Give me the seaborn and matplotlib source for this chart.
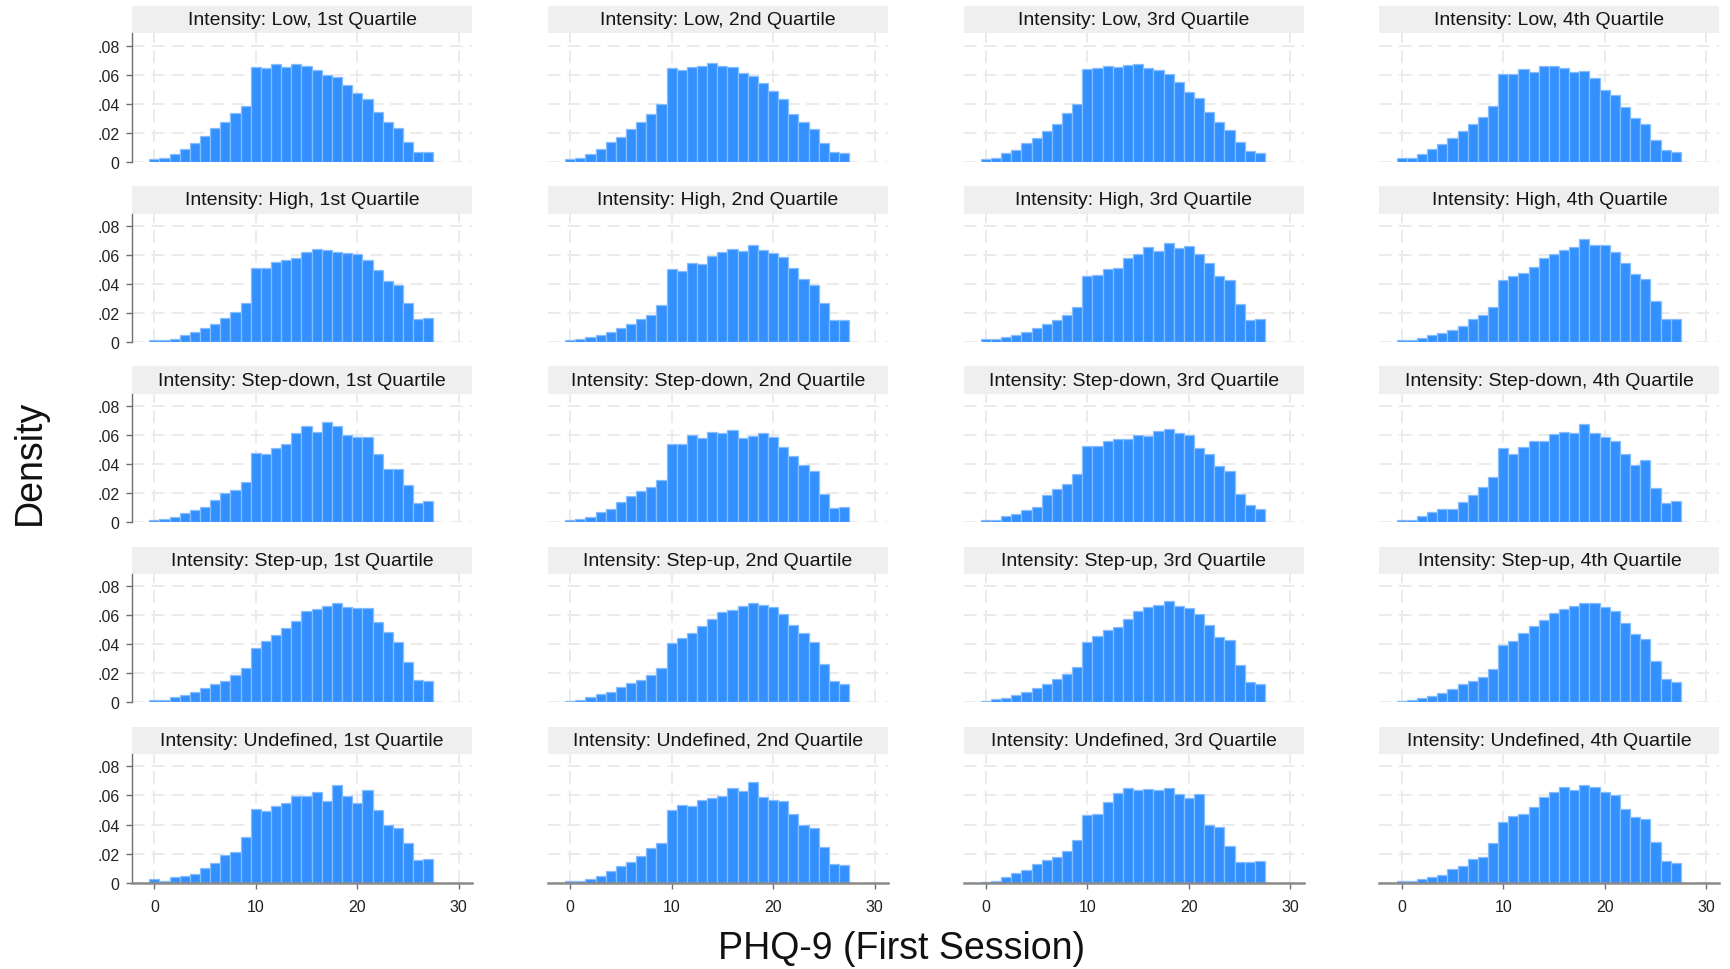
import numpy as np
import pandas as pd
import matplotlib
matplotlib.use("Agg")
import matplotlib.pyplot as plt
import seaborn as sns
from matplotlib.patches import Rectangle

# PHQ-9 score categories (one bar per integer score)
phq9_scores = list(range(28))

intensities = ["Low", "High", "Step-down", "Step-up", "Undefined"]
quartiles = ["1st Quartile", "2nd Quartile", "3rd Quartile", "4th Quartile"]

# Density of first-session PHQ-9 score, per intensity x quartile
low_q1 = [0.0021, 0.0028, 0.0053, 0.0088, 0.0127, 0.0175, 0.0231, 0.0274, 0.0337, 0.0385,
          0.0655, 0.0643, 0.0676, 0.0655, 0.0676, 0.0659, 0.0632, 0.0595, 0.0581, 0.0530,
          0.0475, 0.0433, 0.0346, 0.0274, 0.0233, 0.0136, 0.0069, 0.0065]
low_q2 = [0.0018, 0.0028, 0.0053, 0.0090, 0.0136, 0.0173, 0.0224, 0.0277, 0.0327, 0.0397,
          0.0648, 0.0634, 0.0655, 0.0657, 0.0678, 0.0657, 0.0655, 0.0611, 0.0590, 0.0542,
          0.0486, 0.0431, 0.0332, 0.0274, 0.0226, 0.0127, 0.0065, 0.0060]
low_q3 = [0.0021, 0.0028, 0.0062, 0.0083, 0.0127, 0.0166, 0.0214, 0.0263, 0.0339, 0.0399,
          0.0639, 0.0643, 0.0659, 0.0650, 0.0666, 0.0671, 0.0648, 0.0634, 0.0604, 0.0549,
          0.0482, 0.0436, 0.0341, 0.0272, 0.0221, 0.0134, 0.0076, 0.0062]
low_q4 = [0.0023, 0.0028, 0.0055, 0.0087, 0.0124, 0.0161, 0.0210, 0.0260, 0.0311, 0.0385,
          0.0606, 0.0606, 0.0636, 0.0620, 0.0659, 0.0659, 0.0648, 0.0618, 0.0622, 0.0574,
          0.0497, 0.0462, 0.0375, 0.0302, 0.0263, 0.0152, 0.0081, 0.0069]

high_q1 = [0.0016, 0.0012, 0.0023, 0.0046, 0.0072, 0.0097, 0.0125, 0.0166, 0.0208, 0.0270,
           0.0510, 0.0510, 0.0554, 0.0567, 0.0579, 0.0623, 0.0641, 0.0637, 0.0623, 0.0614,
           0.0604, 0.0565, 0.0494, 0.0422, 0.0394, 0.0268, 0.0157, 0.0168]
high_q2 = [0.0016, 0.0018, 0.0035, 0.0048, 0.0072, 0.0099, 0.0125, 0.0159, 0.0189, 0.0258,
           0.0505, 0.0487, 0.0542, 0.0540, 0.0593, 0.0623, 0.0641, 0.0630, 0.0667, 0.0632,
           0.0614, 0.0586, 0.0508, 0.0436, 0.0394, 0.0268, 0.0152, 0.0152]
high_q3 = [0.0018, 0.0018, 0.0035, 0.0051, 0.0069, 0.0097, 0.0125, 0.0152, 0.0189, 0.0240,
           0.0457, 0.0464, 0.0505, 0.0508, 0.0577, 0.0604, 0.0651, 0.0627, 0.0681, 0.0644,
           0.0662, 0.0609, 0.0542, 0.0457, 0.0429, 0.0265, 0.0152, 0.0159]
high_q4 = [0.0012, 0.0014, 0.0028, 0.0046, 0.0062, 0.0085, 0.0113, 0.0155, 0.0185, 0.0242,
           0.0429, 0.0457, 0.0478, 0.0517, 0.0577, 0.0604, 0.0637, 0.0653, 0.0711, 0.0667,
           0.0667, 0.0618, 0.0544, 0.0466, 0.0436, 0.0281, 0.0155, 0.0155]

stepdown_q1 = [0.0018, 0.0021, 0.0035, 0.0060, 0.0083, 0.0106, 0.0155, 0.0203, 0.0219, 0.0277,
               0.0480, 0.0471, 0.0512, 0.0537, 0.0614, 0.0662, 0.0623, 0.0687, 0.0662, 0.0602,
               0.0588, 0.0588, 0.0473, 0.0364, 0.0369, 0.0254, 0.0131, 0.0148]
stepdown_q2 = [0.0014, 0.0023, 0.0039, 0.0069, 0.0092, 0.0141, 0.0180, 0.0215, 0.0242, 0.0293,
               0.0540, 0.0537, 0.0602, 0.0577, 0.0623, 0.0614, 0.0634, 0.0577, 0.0597, 0.0614,
               0.0588, 0.0517, 0.0454, 0.0394, 0.0353, 0.0191, 0.0097, 0.0104]
stepdown_q3 = [0.0018, 0.0018, 0.0044, 0.0058, 0.0081, 0.0104, 0.0189, 0.0228, 0.0265, 0.0330,
               0.0526, 0.0528, 0.0561, 0.0572, 0.0574, 0.0602, 0.0597, 0.0625, 0.0641, 0.0616,
               0.0600, 0.0514, 0.0473, 0.0390, 0.0353, 0.0191, 0.0118, 0.0092]
stepdown_q4 = [0.0016, 0.0018, 0.0042, 0.0067, 0.0092, 0.0092, 0.0141, 0.0185, 0.0240, 0.0311,
               0.0512, 0.0468, 0.0521, 0.0561, 0.0556, 0.0607, 0.0618, 0.0611, 0.0676, 0.0614,
               0.0588, 0.0558, 0.0473, 0.0392, 0.0427, 0.0238, 0.0129, 0.0143]

stepup_q1 = [0.0018, 0.0018, 0.0036, 0.0052, 0.0071, 0.0098, 0.0124, 0.0147, 0.0191, 0.0237,
             0.0373, 0.0423, 0.0465, 0.0513, 0.0562, 0.0631, 0.0645, 0.0663, 0.0684, 0.0659,
             0.0650, 0.0647, 0.0557, 0.0488, 0.0419, 0.0276, 0.0154, 0.0145]
stepup_q2 = [0.0013, 0.0018, 0.0036, 0.0059, 0.0075, 0.0105, 0.0135, 0.0154, 0.0191, 0.0239,
             0.0412, 0.0446, 0.0481, 0.0527, 0.0573, 0.0626, 0.0637, 0.0665, 0.0686, 0.0673,
             0.0659, 0.0608, 0.0532, 0.0477, 0.0414, 0.0267, 0.0147, 0.0128]
stepup_q3 = [0.0011, 0.0020, 0.0032, 0.0050, 0.0073, 0.0098, 0.0124, 0.0158, 0.0193, 0.0246,
             0.0419, 0.0458, 0.0500, 0.0516, 0.0573, 0.0631, 0.0654, 0.0668, 0.0701, 0.0666,
             0.0647, 0.0608, 0.0532, 0.0453, 0.0430, 0.0255, 0.0140, 0.0124]
stepup_q4 = [0.0013, 0.0018, 0.0032, 0.0046, 0.0066, 0.0094, 0.0124, 0.0147, 0.0172, 0.0232,
             0.0394, 0.0426, 0.0477, 0.0523, 0.0566, 0.0613, 0.0645, 0.0666, 0.0686, 0.0682,
             0.0654, 0.0631, 0.0544, 0.0470, 0.0435, 0.0285, 0.0158, 0.0142]

undefined_q1 = [0.0025, 0.0012, 0.0037, 0.0044, 0.0056, 0.0100, 0.0137, 0.0188, 0.0211, 0.0315,
                0.0505, 0.0496, 0.0526, 0.0547, 0.0598, 0.0598, 0.0621, 0.0561, 0.0672, 0.0598,
                0.0547, 0.0637, 0.0498, 0.0399, 0.0375, 0.0276, 0.0158, 0.0165]
undefined_q2 = [0.0014, 0.0012, 0.0028, 0.0048, 0.0078, 0.0111, 0.0143, 0.0182, 0.0235, 0.0275,
                0.0501, 0.0531, 0.0526, 0.0567, 0.0586, 0.0597, 0.0651, 0.0632, 0.0692, 0.0591,
                0.0570, 0.0563, 0.0473, 0.0394, 0.0374, 0.0247, 0.0129, 0.0118]
undefined_q3 = [0.0005, 0.0014, 0.0037, 0.0067, 0.0088, 0.0125, 0.0155, 0.0175, 0.0221, 0.0291,
                0.0466, 0.0471, 0.0558, 0.0616, 0.0653, 0.0637, 0.0646, 0.0639, 0.0653, 0.0609,
                0.0584, 0.0609, 0.0394, 0.0381, 0.0251, 0.0141, 0.0141, 0.0148]
undefined_q4 = [0.0012, 0.0014, 0.0023, 0.0037, 0.0055, 0.0095, 0.0111, 0.0161, 0.0173, 0.0270,
                0.0420, 0.0459, 0.0471, 0.0521, 0.0591, 0.0625, 0.0655, 0.0637, 0.0671, 0.0655,
                0.0627, 0.0600, 0.0510, 0.0450, 0.0440, 0.0281, 0.0152, 0.0134]

panel_values = {
    "Low": [low_q1, low_q2, low_q3, low_q4],
    "High": [high_q1, high_q2, high_q3, high_q4],
    "Step-down": [stepdown_q1, stepdown_q2, stepdown_q3, stepdown_q4],
    "Step-up": [stepup_q1, stepup_q2, stepup_q3, stepup_q4],
    "Undefined": [undefined_q1, undefined_q2, undefined_q3, undefined_q4],
}

rows = []
for intensity in intensities:
    for quartile, vals in zip(quartiles, panel_values[intensity]):
        for score, d in zip(phq9_scores, vals):
            rows.append({"intensity": intensity, "quartile": quartile,
                         "score": score, "density": d})
df = pd.DataFrame(rows)

sns.set_theme(style="white")
plt.rcParams["font.family"] = ["Liberation Sans", "DejaVu Sans"]

W, H = 1731, 970
fig = plt.figure(figsize=(W / 100, H / 100), dpi=100)
fig.patch.set_facecolor("white")

BAR = "#3391ff"
EDGE = "#85bdff"
GRID = "#e9e9e9"
AXIS = "#6e6e6e"

col_left0, col_step, ax_w = 132.0, 415.8, 340.0
row_top0, row_step, ax_h = 34.3, 180.2, 128.5
strip_h = 27.3

for j, intensity in enumerate(intensities):
    for i, quartile in enumerate(quartiles):
        left = col_left0 + col_step * i
        top = row_top0 + row_step * j
        ax = fig.add_axes([left / W, 1 - (top + ax_h) / H, ax_w / W, ax_h / H])
        sub = df[(df.intensity == intensity) & (df.quartile == quartile)]
        sns.histplot(data=sub, x="score", weights="density", discrete=True,
                     stat="count", color=BAR, edgecolor=EDGE, linewidth=0.9,
                     alpha=1.0, ax=ax)
        ax.set_xlim(-2.2, 31.3)
        ax.set_ylim(0, 0.0885)
        ax.set_xticks([0, 10, 20, 30])
        ax.set_yticks([0, 0.02, 0.04, 0.06, 0.08])
        ax.set_yticklabels(["0", ".02", ".04", ".06", ".08"])
        ax.set_xlabel("")
        ax.set_ylabel("")
        ax.set_facecolor("white")
        ax.grid(True, color=GRID, linestyle=(0, (7, 4)), linewidth=1.3)
        ax.set_axisbelow(True)

        last_row = j == len(intensities) - 1
        for s in ("top", "right"):
            ax.spines[s].set_visible(False)
        ax.spines["left"].set_visible(i == 0)
        ax.spines["bottom"].set_visible(last_row)
        ax.spines["left"].set_color(AXIS)
        ax.spines["left"].set_linewidth(1.0)
        ax.spines["bottom"].set_color("#8a8a8a")
        ax.spines["bottom"].set_linewidth(1.8)

        ax.tick_params(axis="y", left=(i == 0), labelleft=(i == 0),
                       length=4, width=1.0, color=AXIS, pad=5,
                       labelsize=11.5, labelcolor="#222222")
        ax.tick_params(axis="x", bottom=last_row, labelbottom=last_row,
                       length=4, width=1.0, color=AXIS, pad=8,
                       labelsize=11.5, labelcolor="#222222")

        # facet strip above each panel
        sh = strip_h / ax_h
        ax.add_patch(Rectangle((0, 1.0), 1, sh, transform=ax.transAxes,
                               facecolor="#efefef", edgecolor="none",
                               clip_on=False, zorder=0))
        ax.text(0.5, 1.0 + sh / 2, f"Intensity: {intensity}, {quartile}",
                transform=ax.transAxes, ha="center", va="center",
                fontsize=14, color="#151515")

fig.text(30 / W, 1 - 462 / H, "Density", rotation=90, ha="center",
         va="center", fontsize=27, color="#111111")
fig.text(902 / W, 1 - 949 / H, "PHQ-9 (First Session)", ha="center",
         va="center", fontsize=27, color="#111111")

fig.savefig("out.png", dpi=100, facecolor="white")
